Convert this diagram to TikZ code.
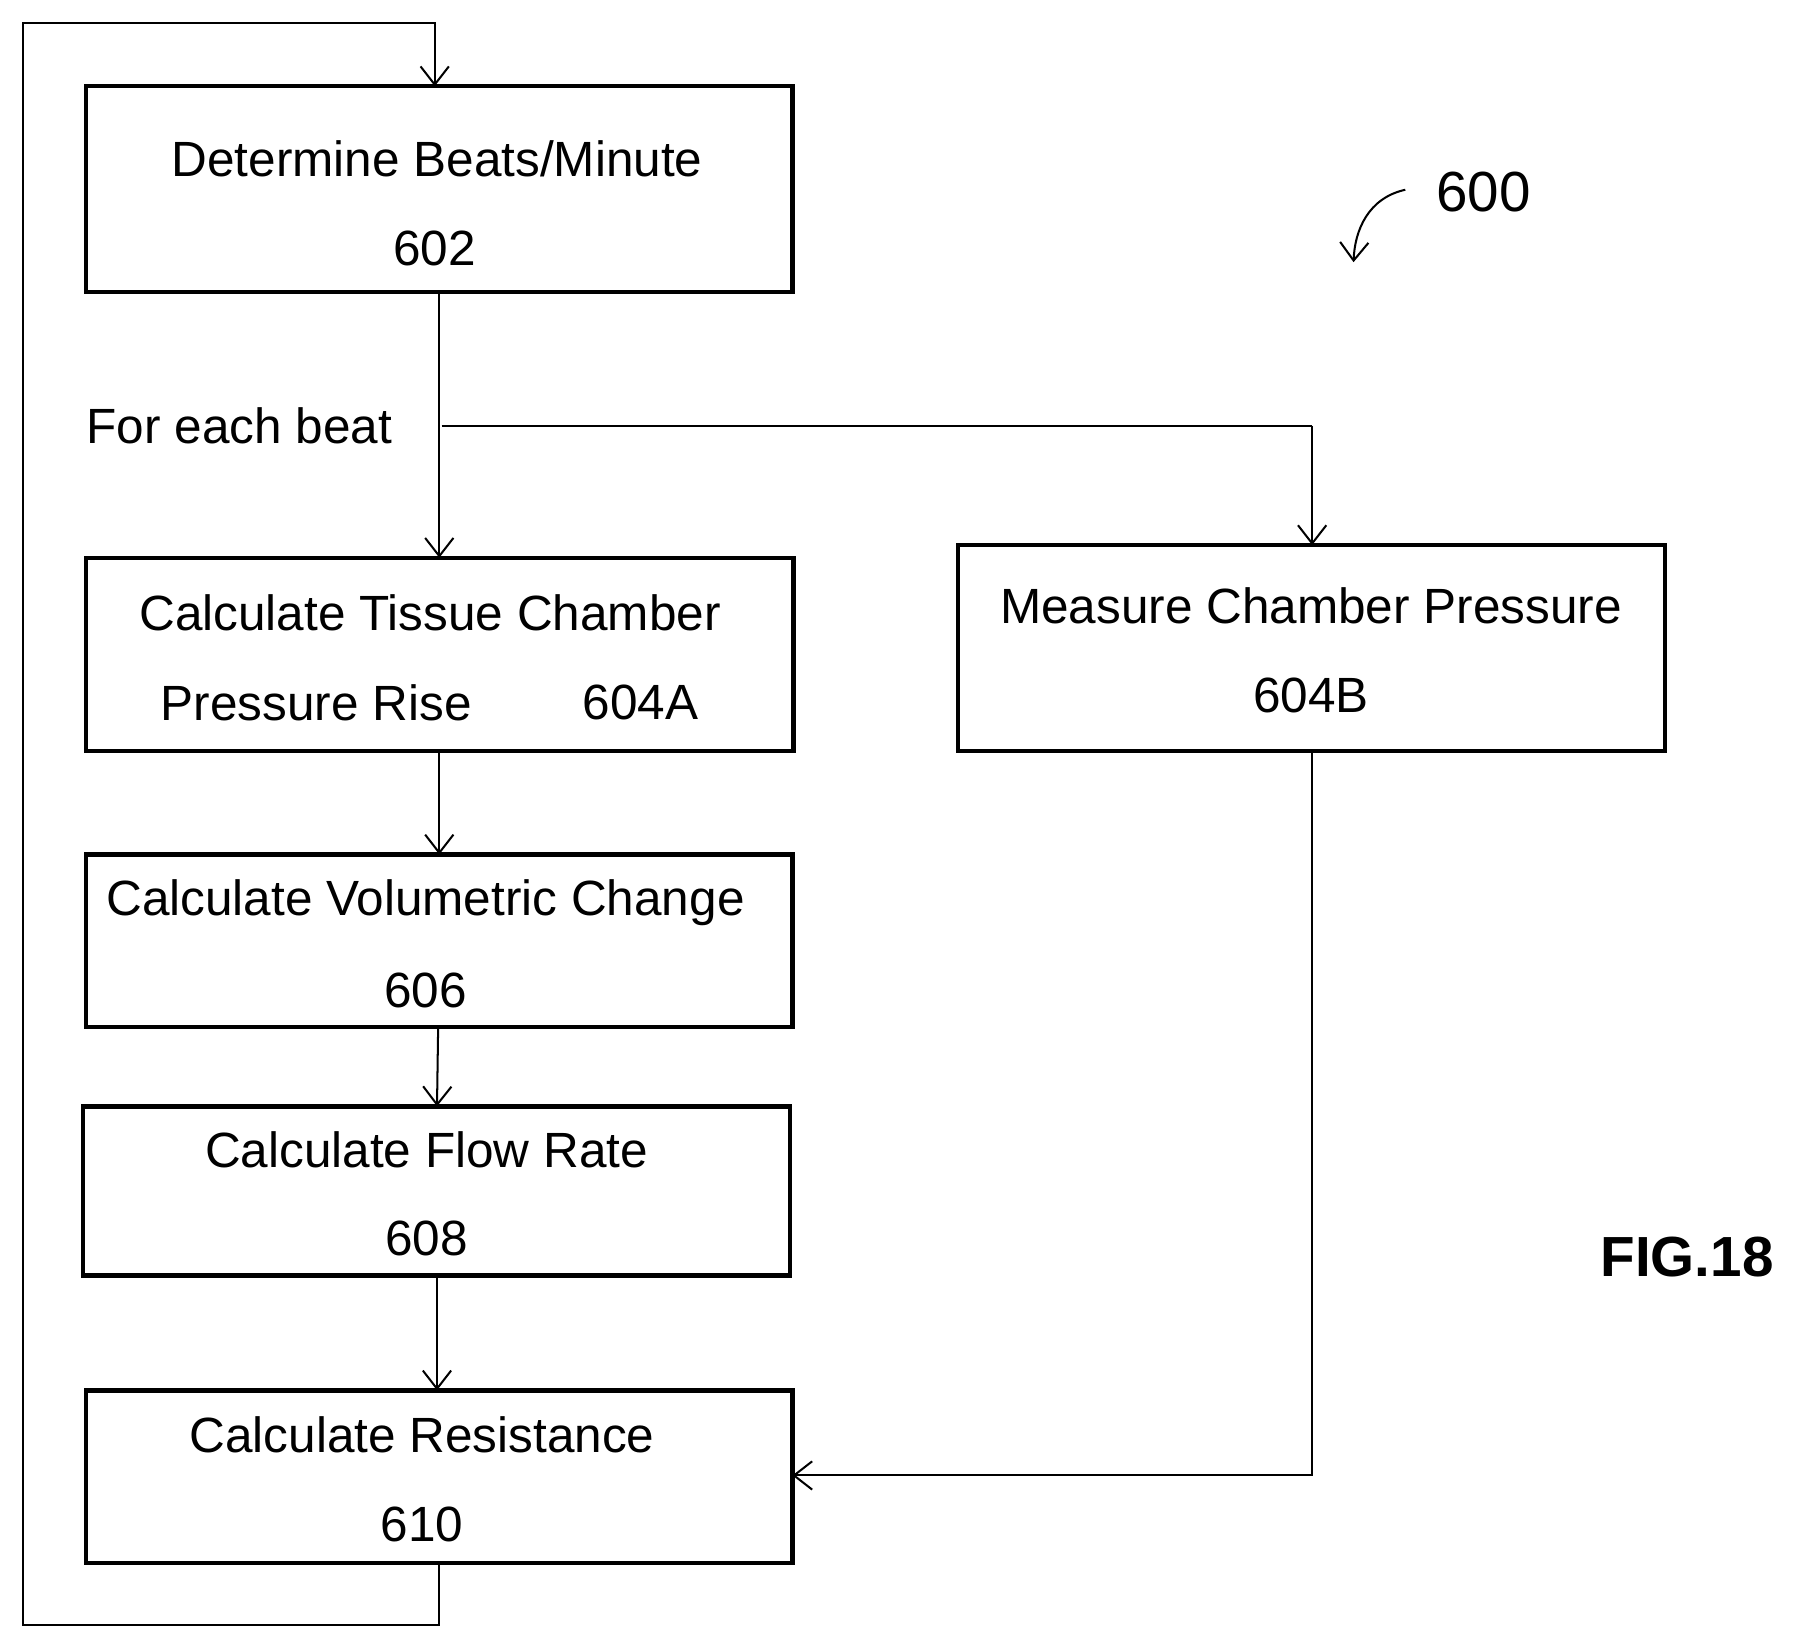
\documentclass[tikz,border=0pt]{standalone}
\usepackage{fontspec}
\setmainfont{Liberation Sans}
\usetikzlibrary{arrows.meta}
\begin{document}
\begin{tikzpicture}[x=0.02cm,y=-0.02cm,
  box/.style={draw,line width=2.2pt,inner sep=0pt},
  txt/.style={font=\fontsize{24.5}{28}\selectfont,inner sep=0pt},
  conn/.style={line width=1pt,-{Straight Barb[length=9pt,width=14pt,line width=1pt]}}]
\useasboundingbox (0,0) rectangle (1560,1428);
\draw[box] (75,75) rectangle (689,254);
\node[txt] (t602a) at (380,138) {Determine Beats/Minute};
\node[txt] (t602b) at (378,216) {602};
\draw[box] (75,485) rectangle (690,653);
\node[txt] (t4a1) at (374,533) {Calculate Tissue Chamber};
\node[txt] (t4a2) at (275,611) {Pressure Rise};
\node[txt] (t4a3) at (557,611) {604A};
\draw[box] (833,474) rectangle (1448,653);
\node[txt] (t4b1) at (1140,527) {Measure Chamber Pressure};
\node[txt] (t4b2) at (1140,605) {604B};
\draw[box] (75,743) rectangle (689,893);
\node[txt] (t6a) at (370,785) {Calculate Volumetric Change};
\node[txt] (t6b) at (370,861) {606};
\draw[box] (72,962) rectangle (687,1109);
\node[txt] (t8a) at (371,1000) {Calculate Flow Rate};
\node[txt] (t8b) at (371,1077) {608};
\draw[box] (75,1209) rectangle (689,1359);
\node[txt] (t10a) at (367,1248) {Calculate Resistance};
\node[txt] (t10b) at (367,1326) {610};
\node[txt,anchor=west] (feb) at (75,370) {For each beat};
\node[txt,font=\fontsize{28}{31}\selectfont] (n600) at (1290,167) {600};
\node[txt,font=\fontsize{28}{31}\selectfont\bfseries] (fig) at (1467,1093) {FIG.18};
\coordinate (br) at (384,370);
\draw[conn] (382,254) -- (382,485);
\draw[line width=1pt] (br) -- (1141,370);
\draw[conn] (1141,370) -- (1141,474);
\draw[conn] (382,653) -- (382,743);
\draw[conn] (381,893) -- (380,962);
\draw[conn] (380,1109) -- (380,1209);
\draw[conn] (1141,653) -- (1141,1283) -- (689,1283);
\draw[conn] (382,1359) -- (382,1413) -- (20,1413) -- (20,20) -- (378,20) -- (378,75);
\draw[conn] (1222,165) .. controls (1190,172) and (1178,200) .. (1177,228);
\end{tikzpicture}
\end{document}
